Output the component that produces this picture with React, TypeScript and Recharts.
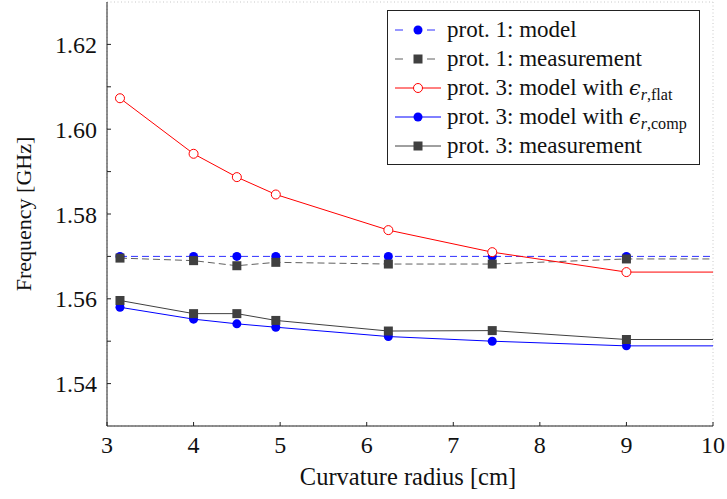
import React from 'react';
import { LineChart, Line, XAxis, YAxis, CartesianGrid, Legend } from 'recharts';

// Curvature radii [cm] of the measured/simulated samples
const radii = [3.15, 4, 4.5, 4.95, 6.25, 7.45, 9];
// flat prototype (infinite radius), lies to the right of the visible range
const flatRadius = 11;

// Frequencies [GHz]; last value = flat reference
const prot1Model = [1.57, 1.57, 1.57, 1.57, 1.57, 1.57, 1.57, 1.57];
const prot1Meas = [1.5696, 1.569, 1.5678, 1.5686, 1.5682, 1.5682, 1.5694, 1.5694];
const prot3Flat = [1.6073, 1.5942, 1.5887, 1.5846, 1.5762, 1.571, 1.5663, 1.5663];
const prot3Comp = [1.558, 1.5552, 1.5541, 1.5533, 1.5511, 1.55, 1.5489, 1.5489];
const prot3Meas = [1.5596, 1.5565, 1.5565, 1.5549, 1.5524, 1.5525, 1.5504, 1.5504];

const xTicks = [3, 4, 5, 6, 7, 8, 9, 10];
const yTicks = [1.54, 1.55, 1.56, 1.57, 1.58, 1.59, 1.6, 1.61, 1.62];
const yLabelTicks = [1.54, 1.56, 1.58, 1.6, 1.62];

const xs = [...radii, flatRadius];
const toData = (vals: number[]) => xs.map((r, i) => ({ r, f: vals[i] }));

const BLUE = '#0000ff';
const RED = '#ff0000';
const DARK = '#404040';
const FONT = '"Liberation Serif", "DejaVu Serif", serif';

const series = [
  { name: 'p1m', vals: prot1Model, color: BLUE, dash: '7 4', marker: 'dot', lineColor: '#3030ff' },
  { name: 'p1x', vals: prot1Meas, color: DARK, dash: '7 4', marker: 'square', lineColor: '#606060' },
  { name: 'p3f', vals: prot3Flat, color: RED, dash: undefined, marker: 'open', lineColor: RED },
  { name: 'p3c', vals: prot3Comp, color: BLUE, dash: undefined, marker: 'dot', lineColor: BLUE },
  { name: 'p3x', vals: prot3Meas, color: DARK, dash: undefined, marker: 'square', lineColor: DARK },
];

const Marker = ({ kind, color, cx, cy }: { kind: string; color: string; cx: number; cy: number }) => {
  if (kind === 'square') {
    return <rect x={cx - 4.5} y={cy - 4.5} width={9} height={9} fill={color} />;
  }
  if (kind === 'open') {
    return <circle cx={cx} cy={cy} r={4.5} fill="#fff" stroke={color} strokeWidth={1} />;
  }
  return <circle cx={cx} cy={cy} r={4.5} fill={color} />;
};

const makeDot = (kind: string, color: string) => (props: any) => {
  const { cx, cy, payload, index } = props;
  if (payload.r > 10) return <g key={`d${index}`} />;
  return (
    <g key={`d${index}`}>
      <Marker kind={kind} color={color} cx={cx} cy={cy} />
    </g>
  );
};

const eps = (sub: string) => (
  <>
    <span style={{ fontStyle: 'italic', fontFamily: '"DejaVu Serif", serif', fontSize: '0.9em' }}>ϵ</span>
    <sub style={{ fontSize: '0.7em', verticalAlign: '-0.3em', lineHeight: 0 }}>
      <span style={{ fontStyle: 'italic' }}>r</span>,{sub}
    </sub>
  </>
);

const legendItems = [
  { label: <>prot. 1: model</>, s: series[0] },
  { label: <>prot. 1: measurement</>, s: series[1] },
  { label: <>prot. 3: model with {eps('flat')}</>, s: series[2] },
  { label: <>prot. 3: model with {eps('comp')}</>, s: series[3] },
  { label: <>prot. 3: measurement</>, s: series[4] },
];

const LegendBox = () => (
  <div
    style={{
      border: '1px solid #222',
      background: '#fff',
      padding: '5px 8px 5px 7px',
      fontFamily: FONT,
      fontSize: 23,
      color: '#111',
      boxSizing: 'border-box',
      width: 313,
      height: 155,
    }}
  >
    {legendItems.map((it, i) => (
      <div key={i} style={{ display: 'flex', alignItems: 'center', height: 28.8, whiteSpace: 'nowrap', lineHeight: '28px' }}>
        <svg width={46} height={12} style={{ marginRight: 6, flex: 'none' }}>
          {it.s.dash ? (
            <>
              <line x1={0} y1={6} x2={8} y2={6} stroke={it.s.lineColor} strokeWidth={1} />
              <line x1={32} y1={6} x2={40} y2={6} stroke={it.s.lineColor} strokeWidth={1} />
            </>
          ) : (
            <line x1={0} y1={6} x2={46} y2={6} stroke={it.s.lineColor} strokeWidth={1} />
          )}
          <Marker kind={it.s.marker} color={it.s.color} cx={23} cy={6} />
        </svg>
        <span>{it.label}</span>
      </div>
    ))}
  </div>
);

const yTickFmt = (v: number) => (yLabelTicks.some((t) => Math.abs(t - v) < 1e-9) ? v.toFixed(2) : '');

export default function App() {
  return (
    <div style={{ position: 'absolute', left: 0, top: 0, width: 727, height: 499, background: '#fff' }}>
      <LineChart width={727} height={499} margin={{ top: 2, right: 14, bottom: 0, left: 0 }}>
        <CartesianGrid stroke="#c8c8c8" strokeDasharray="1 2.5" />
        <XAxis
          xAxisId="b"
          dataKey="r"
          type="number"
          domain={[3, 10]}
          allowDataOverflow
          ticks={xTicks}
          interval={0}
          height={73}
          stroke="#222"
          tickSize={-4}
          tickMargin={14}
          tick={{ fill: '#111', fontFamily: FONT, fontSize: 24 }}
          label={{
            content: (p: any) => {
              const vb = p.viewBox;
              return (
                <text
                  x={vb.x + vb.width / 2 - 2}
                  y={vb.y + 59}
                  textAnchor="middle"
                  fontFamily={FONT}
                  fontSize={24.5}
                  fill="#111"
                >
                  Curvature radius [cm]
                </text>
              );
            },
          }}
        />
        <XAxis
          xAxisId="t"
          orientation="top"
          dataKey="r"
          type="number"
          domain={[3, 10]}
          allowDataOverflow
          ticks={xTicks}
          height={0}
          stroke="#222"
          tickSize={-4}
          tick={false}
        />
        <YAxis
          yAxisId="l"
          type="number"
          domain={[1.53, 1.63]}
          allowDataOverflow
          ticks={yTicks}
          interval={0}
          width={107}
          stroke="#222"
          tickSize={-4}
          tickMargin={14}
          tickFormatter={yTickFmt}
          tick={{ fill: '#111', fontFamily: FONT, fontSize: 24 }}
          label={{
            content: (p: any) => {
              const vb = p.viewBox;
              const cx = 31;
              const cy = vb.y + vb.height / 2;
              return (
                <text
                  x={cx}
                  y={cy}
                  transform={`rotate(-90 ${cx} ${cy})`}
                  textAnchor="middle"
                  fontFamily={FONT}
                  fontSize={22}
                  fill="#111"
                >
                  Frequency [GHz]
                </text>
              );
            },
          }}
        />
        <YAxis
          yAxisId="r"
          orientation="right"
          type="number"
          domain={[1.53, 1.63]}
          allowDataOverflow
          ticks={yTicks}
          width={0}
          stroke="#222"
          tickSize={-4}
          tick={false}
        />
        {series.map((s) => (
          <Line
            key={s.name}
            xAxisId="b"
            yAxisId="l"
            data={toData(s.vals)}
            dataKey="f"
            type="linear"
            stroke={s.lineColor}
            strokeWidth={1}
            strokeDasharray={s.dash}
            dot={makeDot(s.marker, s.color)}
            activeDot={false}
            isAnimationActive={false}
          />
        ))}
        <Legend
          layout="vertical"
          align="center"
          verticalAlign="middle"
          content={() => <LegendBox />}
          wrapperStyle={{ position: 'absolute', left: 387, top: 10, width: 313 }}
        />
      </LineChart>
    </div>
  );
}
